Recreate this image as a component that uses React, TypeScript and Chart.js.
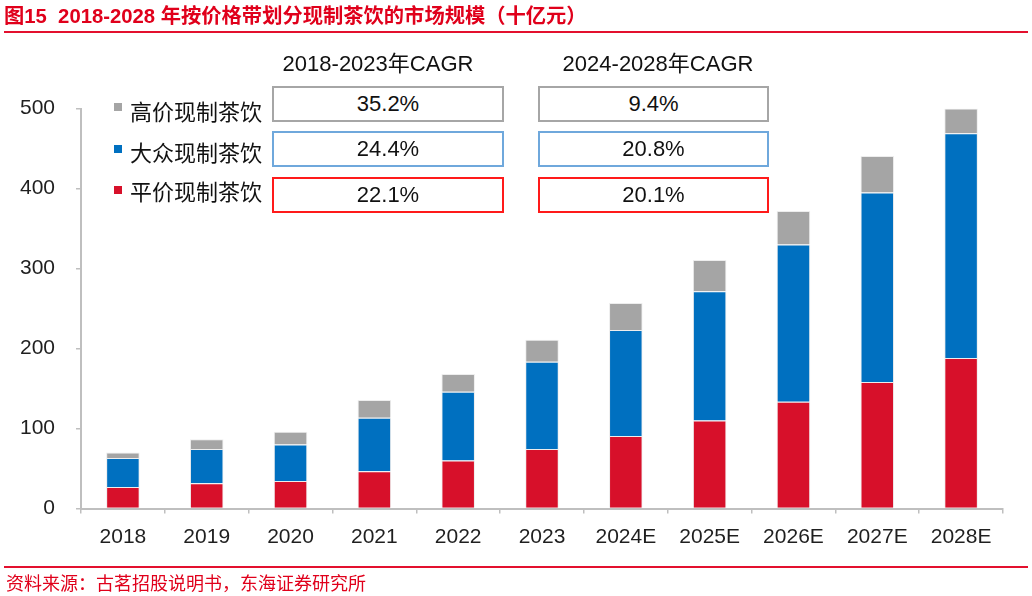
import React, { useEffect, useRef } from "react";
import { Chart, registerables } from "chart.js";

Chart.register(...registerables);

const categories = ["2018", "2019", "2020", "2021", "2022", "2023", "2024E", "2025E", "2026E", "2027E", "2028E"];
const lowPrice = [27, 31.5, 34.5, 46.5, 60, 74.5, 90.5, 110, 133.5, 158, 188];
const midPrice = [36, 43, 45.5, 67, 86, 109, 132.5, 161.5, 196.5, 237, 281];
const highPrice = [7, 12, 16, 22, 22, 27.5, 34, 39, 42, 45.5, 31];
const yTicks = [0, 100, 200, 300, 400, 500];

const legendLabels = ["高价现制茶饮", "大众现制茶饮", "平价现制茶饮"];
const cagrHeaders = ["2018-2023年CAGR", "2024-2028年CAGR"];
const cagr2018 = ["35.2%", "24.4%", "22.1%"];
const cagr2024 = ["9.4%", "20.8%", "20.1%"];

const titleText = "图15  2018-2028 年按价格带划分现制茶饮的市场规模（十亿元）";
const sourceText = "资料来源：古茗招股说明书，东海证券研究所";

const RED = "#d7102a";
const BLUE = "#0070c0";
const GRAY = "#a5a5a5";
const legendColors = [GRAY, BLUE, RED];
const boxBorders = ["#a6a6a6", "#6fa8dc", "#ff1a1a"];

const FONT_LATIN = '"Liberation Sans", Arial, "Noto Sans CJK SC", sans-serif';
const FONT_CJK = '"Noto Sans CJK SC", "Liberation Sans", sans-serif';

export default function App() {
  const canvasRef = useRef<HTMLCanvasElement | null>(null);

  useEffect(() => {
    if (!canvasRef.current) return;
    const chart = new Chart(canvasRef.current, {
      type: "bar",
      data: {
        labels: categories,
        datasets: [
          { label: legendLabels[2], data: lowPrice, backgroundColor: RED, borderColor: "rgba(235,235,235,0.9)", borderWidth: 1, barPercentage: 0.4, categoryPercentage: 1 },
          { label: legendLabels[1], data: midPrice, backgroundColor: BLUE, borderColor: "rgba(235,235,235,0.9)", borderWidth: 1, barPercentage: 0.4, categoryPercentage: 1 },
          { label: legendLabels[0], data: highPrice, backgroundColor: GRAY, borderColor: "rgba(235,235,235,0.9)", borderWidth: 1, barPercentage: 0.4, categoryPercentage: 1 },
        ],
      },
      options: {
        animation: false,
        responsive: false,
        maintainAspectRatio: false,
        layout: { padding: { left: 0, top: 108.5, right: 29, bottom: 37.5 } },
        plugins: { legend: { display: false }, tooltip: { enabled: false }, title: { display: false } },
        scales: {
          x: {
            stacked: true,
            grid: { display: true, drawOnChartArea: false, drawTicks: true, tickLength: 5, color: "#bfbfbf", lineWidth: 1.5, offset: true },
            border: { display: true, color: "#bfbfbf", width: 2 },
            ticks: { color: "#1f1f1f", font: { family: FONT_LATIN, size: 21 }, padding: 11, maxRotation: 0, autoSkip: false },
            afterFit: (scale: any) => { scale.height = 50; },
          },
          y: {
            stacked: true,
            min: 0,
            max: 500,
            afterBuildTicks: (scale: any) => { scale.ticks = yTicks.map((v) => ({ value: v })); },
            grid: { display: true, drawOnChartArea: false, drawTicks: true, tickLength: 5, color: "#bfbfbf", lineWidth: 1.5 },
            border: { display: true, color: "#bfbfbf", width: 2 },
            ticks: { color: "#1f1f1f", font: { family: FONT_LATIN, size: 21 }, padding: 21 },
            afterFit: (scale: any) => { scale.width = 81; },
          },
        },
      },
    });
    return () => chart.destroy();
  }, []);

  const textAbs = (cx: number | null, cy: number, h: number, extra: React.CSSProperties): React.CSSProperties => ({
    position: "absolute",
    top: cy - h / 2,
    height: h,
    lineHeight: `${h}px`,
    whiteSpace: "pre",
    ...(cx !== null ? { left: cx - 200, width: 400, textAlign: "center" } : {}),
    ...extra,
  });

  const boxTops = [86, 131, 177];
  const boxH = 36;
  const cols = [
    { left: 272, width: 232, values: cagr2018, headerCx: 378 },
    { left: 538, width: 231, values: cagr2024, headerCx: 658 },
  ];
  const legendTextY = [110, 151, 190];
  const legendSquareY = [107, 149, 190];

  return (
    <div style={{ position: "absolute", left: 0, top: 0, width: 1032, height: 596, background: "#fff", overflow: "hidden" }}>
      <canvas ref={canvasRef} width={1032} height={596} style={{ position: "absolute", left: 0, top: 0, width: 1032, height: 596 }} />
      {/* title */}
      <div style={textAbs(null, 16, 26, { left: 4, color: "#e0001b", fontFamily: FONT_LATIN, fontWeight: "bold", fontSize: 20.3 })}>{titleText}</div>
      <div style={{ position: "absolute", left: 4, top: 31, width: 1024, height: 2, background: "#e3102e" }} />
      {/* footer */}
      <div style={{ position: "absolute", left: 4, top: 566, width: 1024, height: 2, background: "#e3102e" }} />
      <div style={textAbs(null, 581.5, 24, { left: 6, color: "#e0001b", fontFamily: FONT_CJK, fontSize: 18 })}>{sourceText}</div>
      {/* legend */}
      {legendLabels.map((lab, i) => (
        <React.Fragment key={lab}>
          <div style={{ position: "absolute", left: 114, top: legendSquareY[i] - 4, width: 8, height: 8, background: legendColors[i] }} />
          <div style={textAbs(null, legendTextY[i], 30, { left: 130, color: "#111", fontFamily: FONT_CJK, fontSize: 22 })}>{lab}</div>
        </React.Fragment>
      ))}
      {/* CAGR headers */}
      {cols.map((c, j) => (
        <div key={cagrHeaders[j]} style={textAbs(c.headerCx, 64, 30, { color: "#111", fontFamily: FONT_LATIN, fontSize: 22 })}>{cagrHeaders[j]}</div>
      ))}
      {/* CAGR boxes */}
      {cols.map((c, j) =>
        c.values.map((v, i) => (
          <div
            key={`${j}-${i}`}
            style={{
              position: "absolute",
              left: c.left,
              top: boxTops[i],
              width: c.width,
              height: boxH,
              boxSizing: "border-box",
              border: `2px solid ${boxBorders[i]}`,
              display: "flex",
              alignItems: "center",
              justifyContent: "center",
              color: "#111",
              fontFamily: FONT_LATIN,
              fontSize: 22,
              background: "#fff",
            }}
          >
            {v}
          </div>
        ))
      )}
    </div>
  );
}
